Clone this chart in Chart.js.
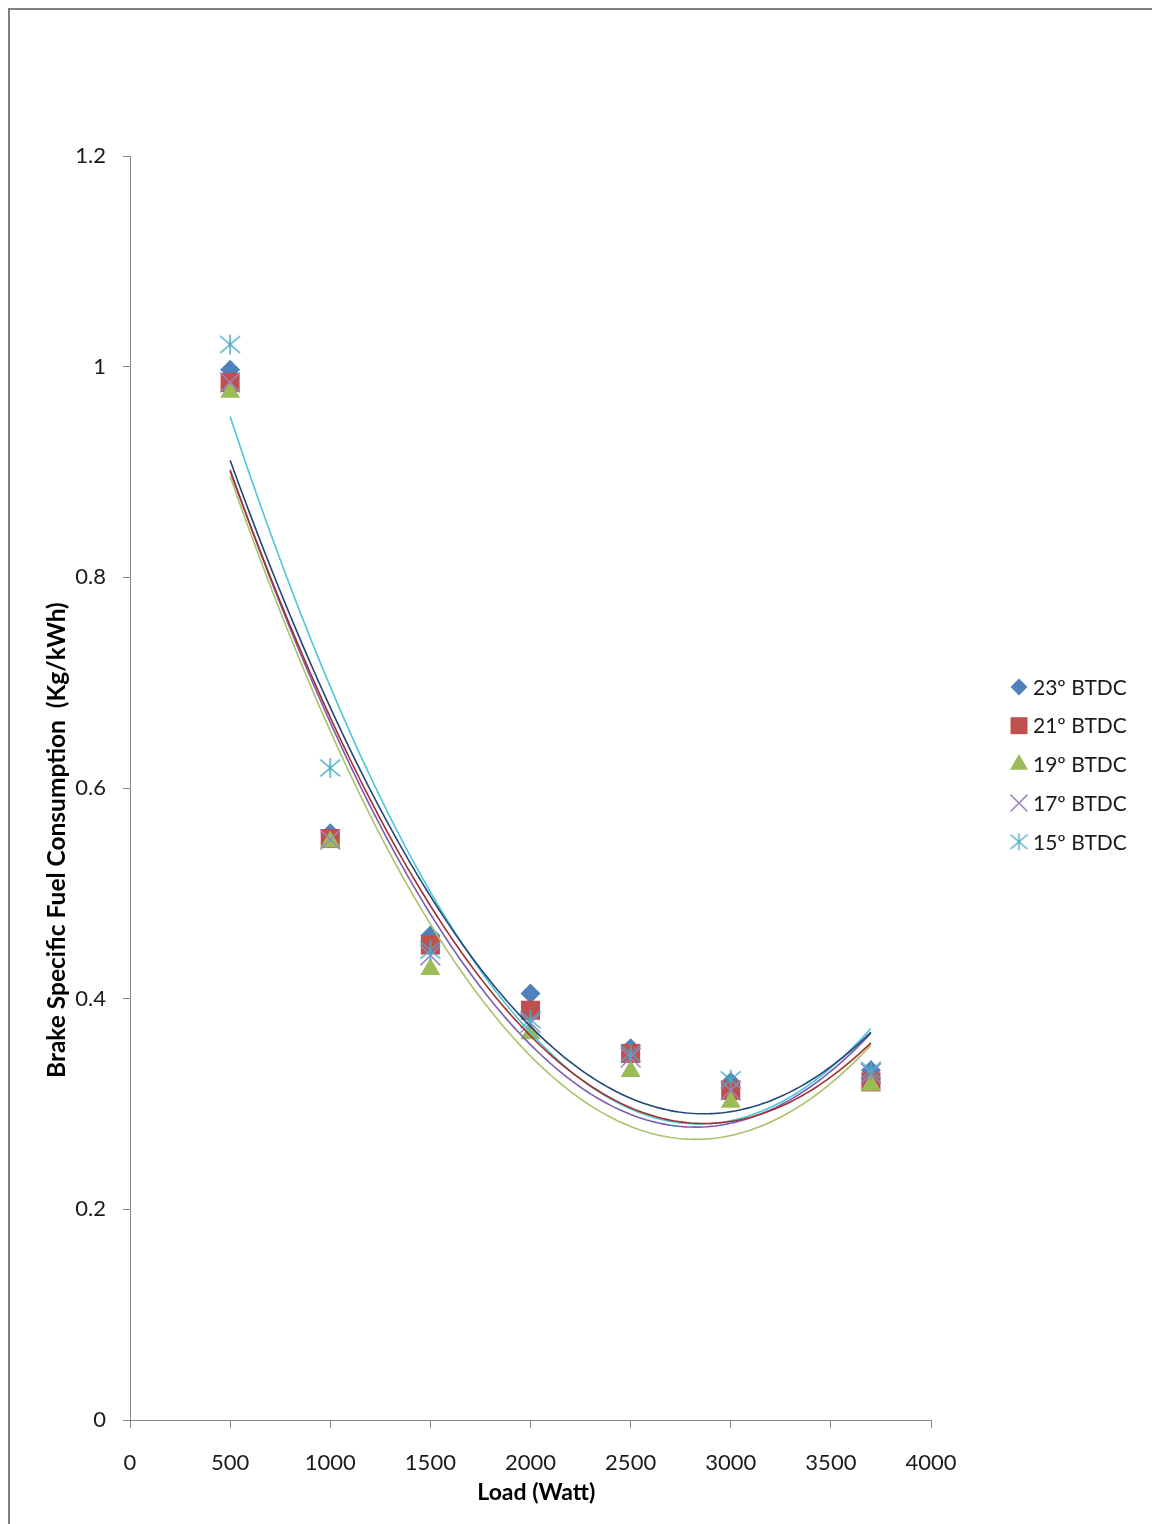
<!DOCTYPE html>
<html><head><meta charset="utf-8">
<script src="https://cdn.jsdelivr.net/npm/chart.js@4.4.1/dist/chart.umd.min.js"></script>
<style>
html,body{margin:0;padding:0;background:#fff;}
#wrap{position:relative;width:1152px;height:1524px;overflow:hidden;background:#fff;}
#frame{position:absolute;left:8px;top:8px;width:1300px;height:1700px;border-top:2px solid #808080;border-left:2px solid #808080;pointer-events:none;}
canvas{position:absolute;left:0;top:0;}
</style></head><body>
<div id="wrap"><canvas id="c" width="1152" height="1524"></canvas><div id="frame"></div></div>
<script>
// ---- data ----
const loads = [500, 1000, 1500, 2000, 2500, 3000, 3700];
const seriesNames = ['23º BTDC', '21º BTDC', '19º BTDC', '17º BTDC', '15º BTDC'];
const bsfc23 = [0.997, 0.557, 0.460, 0.405, 0.353, 0.321, 0.332];
const bsfc21 = [0.985, 0.552, 0.451, 0.389, 0.348, 0.313, 0.321];
const bsfc19 = [0.976, 0.549, 0.428, 0.367, 0.331, 0.302, 0.318];
const bsfc17 = [0.985, 0.551, 0.441, 0.377, 0.344, 0.313, 0.329];
const bsfc15 = [1.021, 0.619, 0.446, 0.380, 0.348, 0.323, 0.332];
const xAxisTitle = 'Load (Watt)';
const yAxisTitle = 'Brake Specific Fuel Consumption  (Kg/kWh)';

// ---- styling ----
const FONT = 'Lato';
const allSeries = [bsfc23, bsfc21, bsfc19, bsfc17, bsfc15];
const markerColors = ['#4F81BD', '#C0504D', '#9BBB59', '#9A84C2', '#4BACC6'];
const trendColors = ['#23477A', '#A3302D', '#A6C46A', '#7B5CB3', '#4CC6D8'];

function makeAsterisk(size, color, lw) {
  const c = document.createElement('canvas');
  c.width = size; c.height = size;
  const g = c.getContext('2d');
  g.strokeStyle = color; g.lineWidth = lw; g.lineCap = 'butt';
  const m = size / 2, r = size / 2 - 1;
  g.beginPath();
  g.moveTo(m, m - r); g.lineTo(m, m + r);
  g.moveTo(m - r, m - r * 0.85); g.lineTo(m + r, m + r * 0.85);
  g.moveTo(m + r, m - r * 0.85); g.lineTo(m - r, m + r * 0.85);
  g.stroke();
  return c;
}
const asteriskBig = makeAsterisk(22, '#4BACC6', 1.6);
const asteriskSmall = makeAsterisk(19, '#4BACC6', 1.4);

const pointStyles = ['rectRot', 'rect', 'triangle', 'crossRot', asteriskBig];
const legendStyles = ['rectRot', 'rect', 'triangle', 'crossRot', asteriskSmall];
const pointRadii = [10, 13.5, 11.5, 14, 11];
const legendRadii = [8.5, 12, 10.5, 12, 9];
const pointBorderW = [0, 0, 0, 1.5, 1.5];

// quadratic least-squares trend (derived from the data above)
function quadFit(xs, ys) {
  let n = xs.length, s1 = 0, s2 = 0, s3 = 0, s4 = 0, t0 = 0, t1 = 0, t2 = 0;
  for (let i = 0; i < n; i++) {
    const x = xs[i], y = ys[i];
    s1 += x; s2 += x * x; s3 += x * x * x; s4 += x * x * x * x;
    t0 += y; t1 += x * y; t2 += x * x * y;
  }
  const M = [[n, s1, s2, t0], [s1, s2, s3, t1], [s2, s3, s4, t2]];
  for (let i = 0; i < 3; i++) {
    let p = i;
    for (let k = i + 1; k < 3; k++) if (Math.abs(M[k][i]) > Math.abs(M[p][i])) p = k;
    [M[i], M[p]] = [M[p], M[i]];
    for (let k = 0; k < 3; k++) {
      if (k === i) continue;
      const f = M[k][i] / M[i][i];
      for (let j = i; j < 4; j++) M[k][j] -= f * M[i][j];
    }
  }
  const a = M[0][3] / M[0][0], b = M[1][3] / M[1][1], c = M[2][3] / M[2][2];
  return x => a + b * x + c * x * x;
}
function trendPoints(ys) {
  const f = quadFit(loads, ys);
  const pts = [];
  const x0 = loads[0], x1 = loads[loads.length - 1];
  for (let x = x0; x <= x1 + 1e-9; x += 20) pts.push({ x: x, y: f(x) });
  return pts;
}

const datasets = [];
allSeries.forEach((ys, i) => {
  datasets.push({
    label: seriesNames[i] + ' trend',
    data: trendPoints(ys),
    showLine: true,
    borderColor: trendColors[i],
    borderWidth: 1.6,
    pointRadius: 0,
    fill: false,
    order: 0
  });
});
allSeries.forEach((ys, i) => {
  datasets.push({
    label: seriesNames[i],
    data: loads.map((x, k) => ({ x: x, y: ys[k] })),
    showLine: false,
    pointStyle: pointStyles[i],
    pointRadius: pointRadii[i],
    pointHoverRadius: pointRadii[i],
    backgroundColor: markerColors[i],
    borderColor: markerColors[i],
    pointBorderWidth: pointBorderW[i],
    order: 5 - i
  });
});

const legendPlugin = {
  id: 'customLegend',
  afterDraw(chart) {
    const ctx = chart.ctx;
    ctx.save();
    const mx = 1019, tx = 1033, y0 = 687, dy = 38.7;
    seriesNames.forEach((name, i) => {
      const y = y0 + i * dy;
      ctx.fillStyle = markerColors[i];
      ctx.strokeStyle = markerColors[i];
      ctx.lineWidth = pointBorderW[i] || 1;
      Chart.helpers.drawPoint(ctx, {
        pointStyle: legendStyles[i], radius: legendRadii[i],
        borderWidth: pointBorderW[i], rotation: 0
      }, mx, y);
      ctx.fillStyle = '#1a1a1a';
      ctx.font = '21px ' + FONT;
      ctx.textAlign = 'left';
      ctx.textBaseline = 'middle';
      ctx.fillText(name, tx, y + 1);
    });
    ctx.restore();
  }
};

new Chart(document.getElementById('c'), {
  type: 'scatter',
  data: { datasets: datasets },
  plugins: [legendPlugin],
  options: {
    responsive: false,
    animation: false,
    devicePixelRatio: 1,
    layout: { padding: { left: 0, top: 156, right: 221, bottom: 0 } },
    plugins: { legend: { display: false }, tooltip: { enabled: false } },
    elements: { line: { tension: 0 } },
    scales: {
      x: {
        type: 'linear', min: 0, max: 4000,
        afterFit: s => { s.height = 104; },
        grid: { drawOnChartArea: false, drawTicks: true, tickLength: 8, color: '#868686' },
        border: { color: '#868686', width: 1 },
        ticks: { stepSize: 500, padding: 22, color: '#1a1a1a', font: { family: FONT, size: 22 },
          callback: v => String(v), maxRotation: 0, autoSkip: false },
        title: { display: true, text: '\u2002' + xAxisTitle, color: '#000', font: { family: FONT, size: 23, weight: 'bold' },
          padding: { top: 0, bottom: 18 } }
      },
      y: {
        type: 'linear', min: 0, max: 1.2,
        afterFit: s => { s.width = 130; },
        grid: { drawOnChartArea: false, drawTicks: true, tickLength: 7, color: '#868686' },
        border: { color: '#868686', width: 1 },
        ticks: { stepSize: 0.2, padding: 17, color: '#1a1a1a', font: { family: FONT, size: 22 },
          callback: v => String(Math.round(v * 10) / 10) },
        title: { display: true, text: yAxisTitle + '\u2003\u2003\u2003\u2003\u2003\u2002', color: '#000', font: { family: FONT, size: 24.5, weight: 'bold' },
          padding: { top: 42, bottom: 0 } }
      }
    }
  }
});
</script>
</body></html>
